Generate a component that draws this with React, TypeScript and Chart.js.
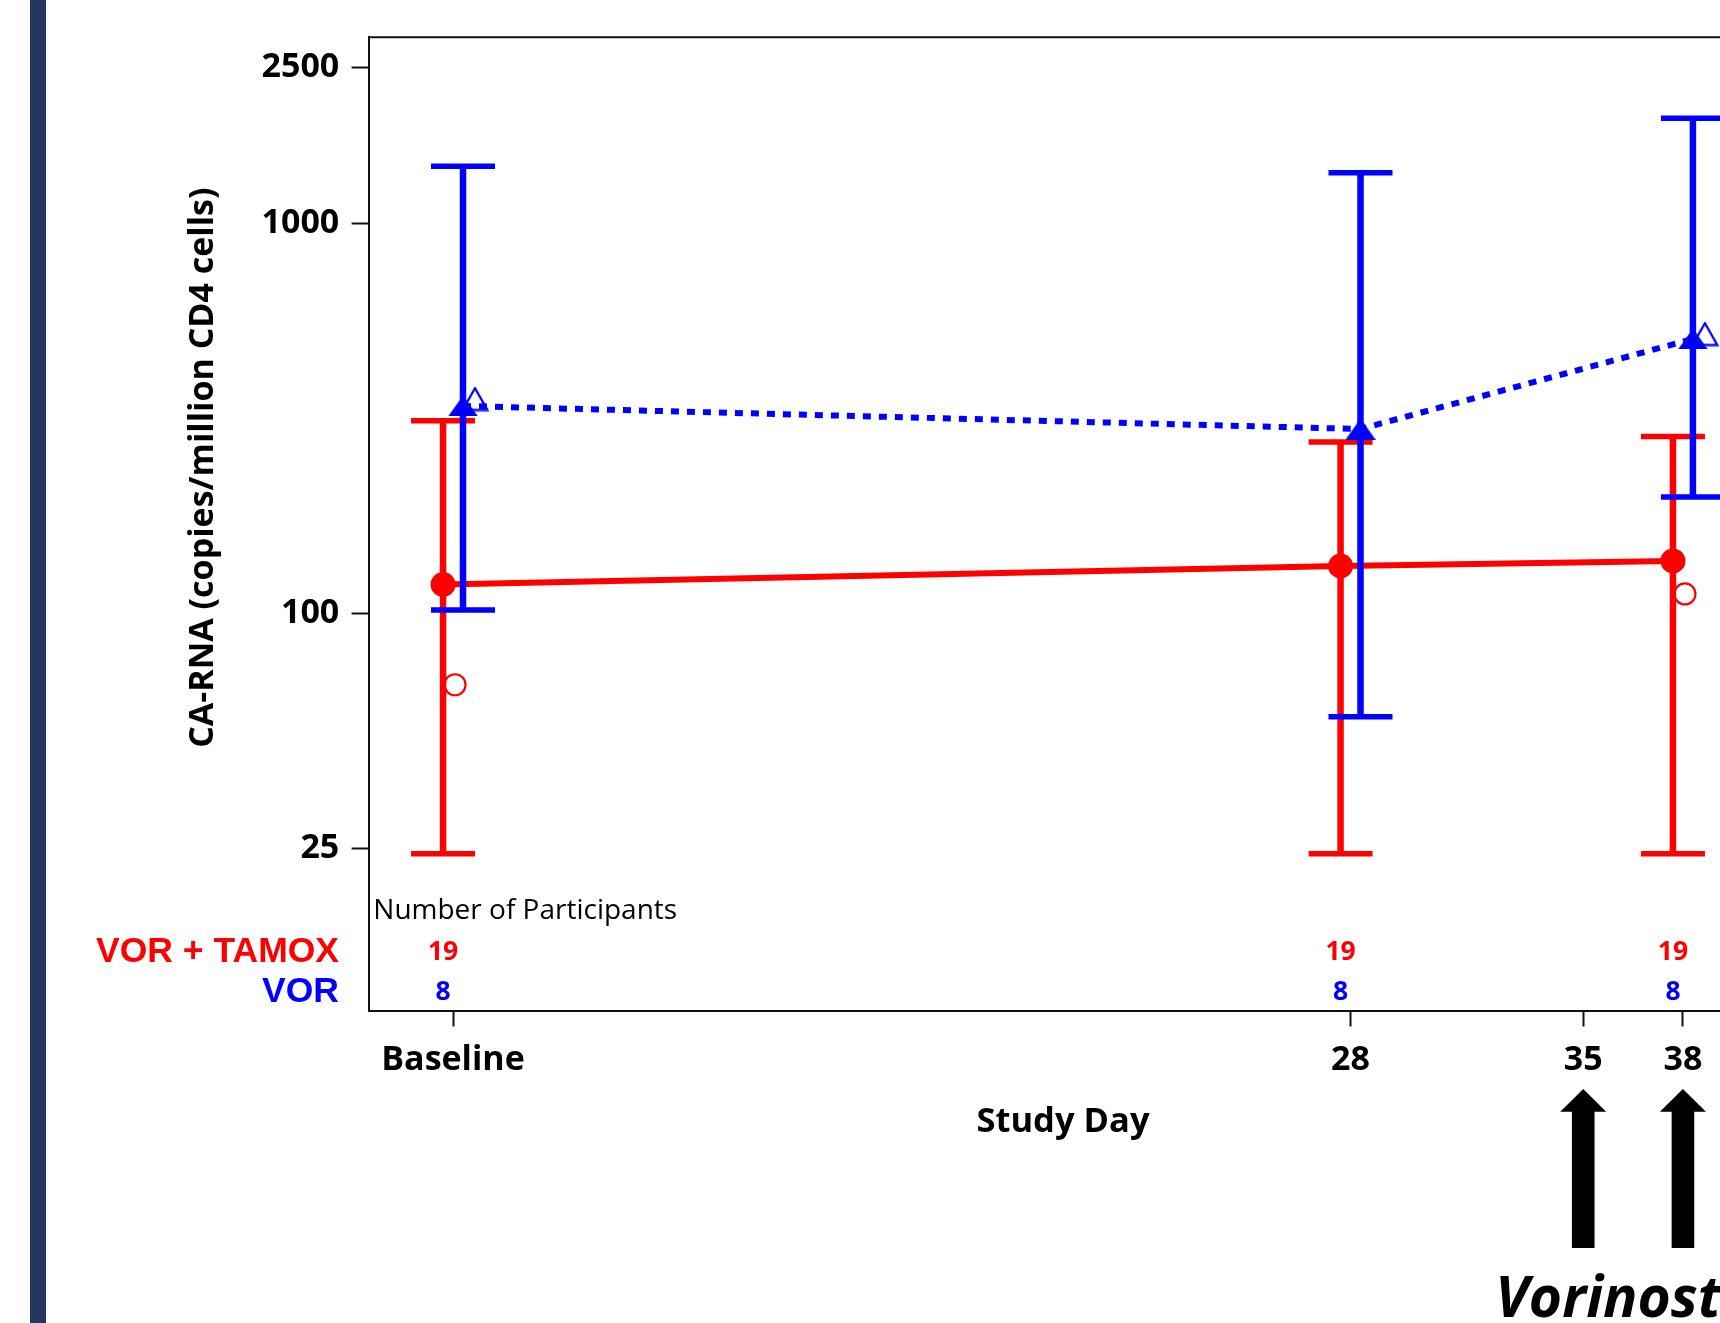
import React, { useEffect, useRef } from 'react';
import { Chart, registerables } from 'chart.js';

Chart.register(...registerables);

// ---- data ----
const days = [1, 28, 38]; // Baseline is study day 1
const xTickDays = [1, 28, 35, 38];
const xTickLabels = ['Baseline', '28', '35', '38'];
const yTickValues = [25, 100, 1000, 2500];
const yTickLabels = ['25', '100', '1000', '2500'];

const tamoxMean = [118.5, 132.2, 136.2];
const tamoxUpper = [311.6, 274.8, 283.6];
const tamoxLower = [24.2, 24.2, 24.2];
const tamoxOpen = [65.6, null, 112.1];
const tamoxN = [19, 19, 19];

const vorMean = [339.8, 296.6, 504.6];
const vorUpper = [1397, 1345, 1854];
const vorLower = [102.0, 54.3, 198.6];
const vorOpen = [354, null, 519.5];
const vorN = [8, 8, 8];

const arrowDays = [35, 38];

const tamoxOffset = -0.3;
const vorOffset = 0.3;
const openShift = 0.36;

const RED = '#ff0000';
const BLUE = '#0000ff';
const CANVAS_W = 1800;
const CANVAS_H = 1323;

function makeTriangle(w: number, h: number, color: string, filled: boolean, lw: number) {
  const c = document.createElement('canvas');
  c.width = w;
  c.height = h;
  const g = c.getContext('2d')!;
  const m = filled ? 0 : lw / 2 + 0.5;
  g.beginPath();
  g.moveTo(w / 2, m);
  g.lineTo(w - m, h - m);
  g.lineTo(m, h - m);
  g.closePath();
  if (filled) {
    g.fillStyle = color;
    g.fill();
  } else {
    g.strokeStyle = color;
    g.lineWidth = lw;
    g.stroke();
  }
  return c;
}

const annotatePlugin = {
  id: 'annotate',
  beforeDatasetDraw(chart: any, args: any) {
    const ds = chart.data.datasets[args.index];
    if (!ds.errUpper) return;
    const { ctx } = chart;
    const xs = chart.scales.x;
    const ys = chart.scales.y;
    ctx.save();
    ctx.strokeStyle = ds.borderColor;
    ctx.lineCap = 'butt';
    ds.errUpper.forEach((u: number, i: number) => {
      const px = xs.getPixelForValue(days[i] + ds.errOffset);
      const top = ys.getPixelForValue(u);
      const bot = ys.getPixelForValue(ds.errLower[i]);
      ctx.lineWidth = 6.5;
      ctx.beginPath();
      ctx.moveTo(px, top);
      ctx.lineTo(px, bot);
      ctx.stroke();
      ctx.lineWidth = 5.5;
      ctx.beginPath();
      ctx.moveTo(px - 32, top);
      ctx.lineTo(px + 32, top);
      ctx.moveTo(px - 32, bot);
      ctx.lineTo(px + 32, bot);
      ctx.stroke();
    });
    ctx.restore();
  },
  afterDraw(chart: any) {
    const { ctx, chartArea } = chart;
    const xs = chart.scales.x;
    const { left, right, top, bottom } = chartArea;
    ctx.save();
    // frame top & right
    ctx.strokeStyle = '#111';
    ctx.lineWidth = 2;
    ctx.beginPath();
    ctx.moveTo(left, top);
    ctx.lineTo(right, top);
    ctx.lineTo(right, bottom);
    ctx.stroke();

    // y-axis title
    ctx.save();
    ctx.translate(213, (top + 898) / 2);
    ctx.rotate(-Math.PI / 2);
    ctx.fillStyle = '#000';
    ctx.font = 'bold 34px "Open Sans", "Noto Sans", sans-serif';
    ctx.textAlign = 'center';
    ctx.textBaseline = 'alphabetic';
    ctx.fillText('CA-RNA (copies/million CD4 cells)', 0, 0);
    ctx.restore();

    // participants table
    ctx.textBaseline = 'alphabetic';
    ctx.fillStyle = '#000';
    ctx.font = '28px "Open Sans", "Noto Sans", sans-serif';
    ctx.textAlign = 'left';
    ctx.fillText('Number of Participants', left + 4.7, bottom - 91.2);

    ctx.font = 'bold 35.5px "Liberation Sans", Arial, sans-serif';
    ctx.textAlign = 'right';
    ctx.fillStyle = RED;
    ctx.fillText('VOR + TAMOX', 339, bottom - 49);
    ctx.fillStyle = BLUE;
    ctx.fillText('VOR', 339, bottom - 9);

    ctx.font = 'bold 26.5px "Open Sans", "Noto Sans", sans-serif';
    ctx.textAlign = 'center';
    days.forEach((d, i) => {
      const px = xs.getPixelForValue(d + tamoxOffset);
      ctx.fillStyle = RED;
      ctx.fillText(String(tamoxN[i]), px, bottom - 50.5);
      ctx.fillStyle = BLUE;
      ctx.fillText(String(vorN[i]), px, bottom - 10.2);
    });

    // arrows
    ctx.fillStyle = '#000';
    arrowDays.forEach((d) => {
      const px = xs.getPixelForValue(d);
      const tip = bottom + 78.5;
      const base = bottom + 101.2;
      const end = bottom + 237.5;
      ctx.beginPath();
      ctx.moveTo(px, tip);
      ctx.lineTo(px + 23, base);
      ctx.lineTo(px + 11.3, base);
      ctx.lineTo(px + 11.3, end);
      ctx.lineTo(px - 11.3, end);
      ctx.lineTo(px - 11.3, base);
      ctx.lineTo(px - 23, base);
      ctx.closePath();
      ctx.fill();
    });

    ctx.font = 'italic bold 57px "Open Sans", "Noto Sans", sans-serif';
    ctx.textAlign = 'left';
    ctx.textBaseline = 'alphabetic';
    ctx.fillText('Vorinostat', xs.getPixelForValue(arrowDays[0]) - 88, bottom + 306.5);
    ctx.restore();
  },
};

export default function App() {
  const canvasRef = useRef<HTMLCanvasElement | null>(null);

  useEffect(() => {
    const canvas = canvasRef.current;
    if (!canvas) return;
    const triFilled = makeTriangle(30, 21, BLUE, true, 0);
    const triOpen = makeTriangle(28, 25, BLUE, false, 2.2);

    const chart = new Chart(canvas, {
      type: 'line',
      data: {
        datasets: [
          {
            label: 'VOR mean',
            data: days.map((d, i) => ({ x: d + vorOffset, y: vorMean[i] })),
            borderColor: BLUE,
            backgroundColor: BLUE,
            borderWidth: 6,
            borderDash: [8, 8],
            pointStyle: triFilled as any,
            pointRadius: 10,
            pointHoverRadius: 10,
            order: 1,
            errUpper: vorUpper,
            errLower: vorLower,
            errOffset: vorOffset,
          } as any,
          {
            label: 'VOR open',
            data: days.map((d, i) => ({ x: d + vorOffset + openShift, y: vorOpen[i] })),
            showLine: false,
            borderColor: BLUE,
            pointStyle: triOpen as any,
            pointRadius: 10,
            pointHoverRadius: 10,
            order: 2,
          } as any,
          {
            label: 'VOR + TAMOX mean',
            data: days.map((d, i) => ({ x: d + tamoxOffset, y: tamoxMean[i] })),
            borderColor: RED,
            backgroundColor: RED,
            borderWidth: 6,
            pointStyle: 'circle',
            pointRadius: 12.5,
            pointHoverRadius: 12.5,
            pointBackgroundColor: RED,
            pointBorderWidth: 0,
            order: 3,
            errUpper: tamoxUpper,
            errLower: tamoxLower,
            errOffset: tamoxOffset,
          } as any,
          {
            label: 'VOR + TAMOX open',
            data: days.map((d, i) => ({ x: d + tamoxOffset + openShift, y: tamoxOpen[i] })),
            showLine: false,
            borderColor: RED,
            pointStyle: 'circle',
            pointRadius: 10.5,
            pointHoverRadius: 10.5,
            pointBorderWidth: 2.2,
            pointBorderColor: RED,
            pointBackgroundColor: 'rgba(0,0,0,0)',
            order: 4,
          } as any,
        ],
      },
      options: {
        animation: false,
        responsive: false,
        devicePixelRatio: 1,
        events: [],
        layout: { padding: { left: 0, top: 37.3, right: CANVAS_W - 1757.4, bottom: 0 } },
        plugins: {
          legend: { display: false },
          tooltip: { enabled: false },
          title: { display: false },
        },
        scales: {
          x: {
            type: 'linear',
            min: -1.54,
            max: 40.24,
            afterBuildTicks: (s: any) => {
              s.ticks = xTickDays.map((v) => ({ value: v }));
            },
            afterFit: (s: any) => {
              s.height = CANVAS_H - 1010.5;
            },
            ticks: {
              autoSkip: false,
              maxRotation: 0,
              padding: 13.5,
              color: '#000',
              font: { family: '"Open Sans", "Noto Sans", sans-serif', weight: 'bold', size: 34 },
              callback: (v: any) => {
                const i = xTickDays.indexOf(Number(v));
                return i >= 0 ? xTickLabels[i] : '';
              },
            },
            grid: {
              drawOnChartArea: false,
              drawTicks: true,
              tickLength: 16,
              tickWidth: 2,
              tickColor: '#111',
              color: '#111',
            },
            border: { display: true, color: '#111', width: 2 },
            title: {
              display: true,
              text: 'Study Day',
              color: '#000',
              font: { family: '"Open Sans", "Noto Sans", sans-serif', weight: 'bold', size: 34.5 },
              padding: { top: 0, bottom: 180 },
            },
          },
          y: {
            type: 'logarithmic',
            min: 9.6,
            max: 2991,
            afterBuildTicks: (s: any) => {
              s.ticks = yTickValues.map((v) => ({ value: v }));
            },
            afterFit: (s: any) => {
              s.width = 368.6;
            },
            ticks: {
              autoSkip: false,
              padding: 12.3,
              color: '#000',
              font: { family: '"Open Sans", "Noto Sans", sans-serif', weight: 'bold', size: 34 },
              callback: (v: any) => {
                const i = yTickValues.indexOf(Number(v));
                return i >= 0 ? yTickLabels[i] : '';
              },
            },
            grid: {
              drawOnChartArea: false,
              drawTicks: true,
              tickLength: 17,
              tickWidth: 2,
              tickColor: '#111',
              color: '#111',
            },
            border: { display: true, color: '#111', width: 2 },
            title: { display: false },
          },
        },
      } as any,
      plugins: [annotatePlugin as any],
    });

    return () => {
      chart.destroy();
    };
  }, []);

  return (
    <div
      style={{
        position: 'absolute',
        left: 0,
        top: 0,
        width: 1720,
        height: 1323,
        overflow: 'hidden',
        background: '#fff',
      }}
    >
      <div
        style={{
          position: 'absolute',
          left: 30,
          top: 0,
          width: 16,
          height: 1323,
          background: '#22385f',
        }}
      />
      <canvas
        ref={canvasRef}
        width={CANVAS_W}
        height={CANVAS_H}
        style={{ position: 'absolute', left: 0, top: 0, width: CANVAS_W, height: CANVAS_H }}
      />
    </div>
  );
}
